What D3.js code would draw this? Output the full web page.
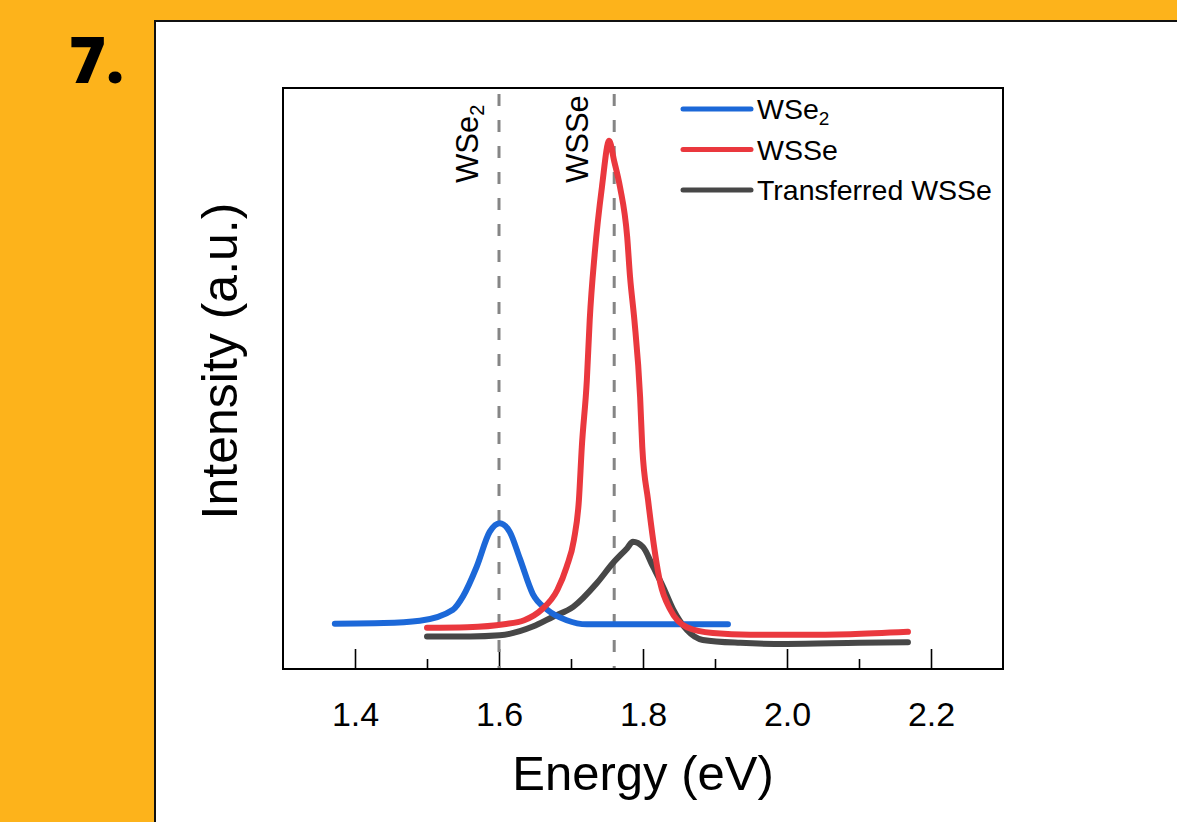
<!DOCTYPE html>
<html>
<head>
<meta charset="utf-8">
<script src="https://cdn.jsdelivr.net/npm/d3@7"></script>
<style>
  html, body { margin: 0; padding: 0; background: #fdb31b; }
  svg { display: block; }
  text { font-family: "Liberation Sans", Arial, sans-serif; fill: #000; }
</style>
</head>
<body>
<svg id="chart"></svg>
<script>
// PL spectra (energy in eV, intensity in a.u.)
const wse2Energy = [1.372, 1.440, 1.490, 1.536, 1.550, 1.569, 1.587, 1.601, 1.615, 1.629, 1.647, 1.667, 1.694, 1.722, 1.800, 1.918];
const wse2Intensity = [7.8, 7.9, 8.3, 10.2, 12.5, 17.6, 23.6, 25.1, 23.6, 19.0, 12.9, 10.2, 8.4, 7.7, 7.7, 7.7];

const wsseEnergy = [1.500, 1.556, 1.607, 1.635, 1.659, 1.681, 1.694, 1.704, 1.711, 1.715, 1.722, 1.726, 1.733, 1.743, 1.753, 1.760, 1.768, 1.778, 1.782, 1.788, 1.796, 1.799, 1.807, 1.824, 1.838, 1.861, 1.897, 1.949, 2.018, 2.088, 2.168];
const wsseIntensity = [7.1, 7.2, 7.7, 8.4, 10.2, 13.6, 17.6, 22.2, 29.1, 38.2, 49.7, 60.1, 71.6, 83.0, 90.9, 87.4, 83.0, 74.4, 67.5, 60.1, 46.8, 38.2, 29.1, 14.8, 10.2, 7.2, 6.2, 5.9, 5.9, 6.0, 6.4];

const transEnergy = [1.500, 1.560, 1.601, 1.647, 1.675, 1.703, 1.736, 1.758, 1.778, 1.786, 1.800, 1.814, 1.828, 1.842, 1.861, 1.883, 1.935, 2.000, 2.100, 2.168];
const transIntensity = [5.6, 5.6, 5.8, 7.3, 9.0, 10.7, 14.8, 18.2, 20.8, 21.9, 21.0, 17.6, 14.1, 10.2, 6.7, 5.0, 4.5, 4.3, 4.5, 4.6];

const seriesNames = ["WSe2", "WSSe", "Transferred WSSe"];
const seriesColors = ["#1c68d8", "#ea383e", "#474747"];

const majorTicks = [1.4, 1.6, 1.8, 2.0, 2.2];
const minorTicks = [1.5, 1.7, 1.9, 2.1];
const peakEnergies = [1.6, 1.76];
const peakLabels = ["WSe2", "WSSe"];

const W = 1177, H = 822;
const svg = d3.select("#chart").attr("width", W).attr("height", H);

// orange page with white panel
svg.append("rect").attr("width", W).attr("height", H).attr("fill", "#fdb31b");
svg.append("rect")
  .attr("x", 155).attr("y", 21)
  .attr("width", W).attr("height", H)
  .attr("fill", "#fff").attr("stroke", "#111").attr("stroke-width", 2);

svg.append("text")
  .attr("x", 69).attr("y", 83)
  .style("font-family", "'Open Sans', 'DejaVu Sans', sans-serif")
  .style("font-weight", 800)
  .style("font-size", "63px")
  .text("7.");

// plot area
const plot = { left: 283, top: 88, right: 1003, bottom: 669 };
const xScale = d3.scaleLinear([1.3, 2.3], [plot.left, plot.right]);
const yScale = d3.scaleLinear([0, 100], [plot.bottom, plot.top]);

// Add Axes (ticks point inward)
const xMajor = d3.axisBottom(xScale)
  .tickValues(majorTicks)
  .tickSize(-20)
  .tickPadding(33)
  .tickFormat(d3.format(".1f"));
const xMinor = d3.axisBottom(xScale)
  .tickValues(minorTicks)
  .tickSize(-10)
  .tickFormat("");

const gx = svg.append("g")
  .attr("transform", `translate(0,${plot.bottom})`)
  .call(xMajor);
gx.select(".domain").remove();
gx.selectAll("line").attr("stroke", "#000").attr("stroke-width", 1.6);
gx.selectAll("text").style("font-size", "34px").attr("fill", "#000")
  .style("font-family", "'Liberation Sans', Arial, sans-serif");

const gm = svg.append("g")
  .attr("transform", `translate(0,${plot.bottom})`)
  .call(xMinor);
gm.select(".domain").remove();
gm.selectAll("line").attr("stroke", "#000").attr("stroke-width", 1.6);

// dashed peak markers
svg.selectAll(".peak")
  .data(peakEnergies)
  .join("line")
  .attr("class", "peak")
  .attr("x1", d => xScale(d)).attr("x2", d => xScale(d))
  .attr("y1", plot.top + 6).attr("y2", plot.bottom)
  .attr("stroke", "#858585")
  .attr("stroke-width", 3)
  .attr("stroke-dasharray", "12,14");

const labelOffsets = [21, 26];
peakLabels.forEach((lab, i) => {
  const t = svg.append("text")
    .attr("transform", `translate(${xScale(peakEnergies[i]) - labelOffsets[i]},183) rotate(-90)`)
    .style("font-size", "31px");
  if (lab === "WSe2") {
    t.append("tspan").text("WSe");
    t.append("tspan").attr("dy", "0.3em").style("font-size", "20px").text("2");
  } else {
    t.text(lab);
  }
});

// spectra
const line = d3.line()
  .x(d => xScale(d[0]))
  .y(d => yScale(d[1]))
  .curve(d3.curveMonotoneX);

const series = [
  d3.zip(wse2Energy, wse2Intensity),
  d3.zip(wsseEnergy, wsseIntensity),
  d3.zip(transEnergy, transIntensity)
];

// draw grey first, then blue, red on top (as in figure)
[2, 0, 1].forEach(i => {
  svg.append("path")
    .datum(series[i])
    .attr("fill", "none")
    .attr("stroke", seriesColors[i])
    .attr("stroke-width", 6)
    .attr("stroke-linejoin", "round")
    .attr("stroke-linecap", "round")
    .attr("d", line);
});

// frame
svg.append("rect")
  .attr("x", plot.left).attr("y", plot.top)
  .attr("width", plot.right - plot.left).attr("height", plot.bottom - plot.top)
  .attr("fill", "none").attr("stroke", "#000").attr("stroke-width", 2);

// legend
const legend = svg.append("g").attr("transform", "translate(683,109)");
seriesNames.forEach((name, i) => {
  const row = legend.append("g").attr("transform", `translate(0,${i * 40.5})`);
  row.append("line")
    .attr("x1", 0).attr("x2", 68)
    .attr("stroke", seriesColors[i])
    .attr("stroke-width", 5)
    .attr("stroke-linecap", "round");
  const t = row.append("text")
    .attr("x", 74).attr("y", 10)
    .style("font-size", "28.5px");
  if (name === "WSe2") {
    t.append("tspan").text("WSe");
    t.append("tspan").attr("dy", "0.3em").style("font-size", "19px").text("2");
  } else {
    t.text(name);
  }
});

// axis titles
svg.append("text")
  .attr("x", xScale(1.8)).attr("y", 790)
  .attr("text-anchor", "middle")
  .style("font-size", "49px")
  .text("Energy (eV)");

svg.append("text")
  .attr("transform", `translate(237,361) rotate(-90)`)
  .attr("text-anchor", "middle")
  .style("font-size", "50px")
  .text("Intensity (a.u.)");
</script>
</body>
</html>
